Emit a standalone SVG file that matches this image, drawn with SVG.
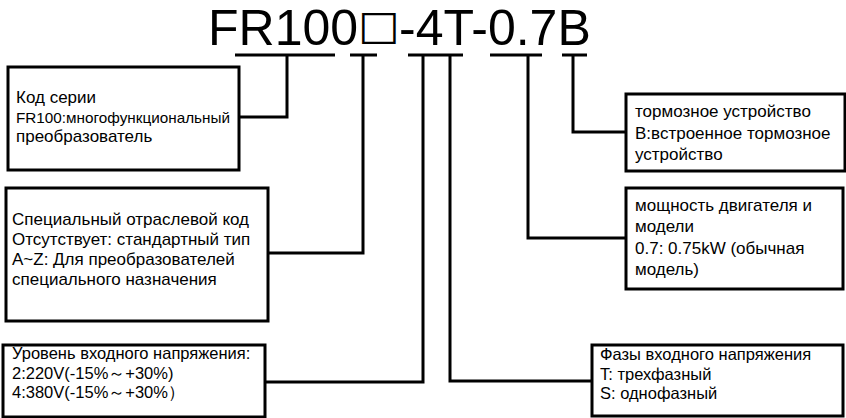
<svg xmlns="http://www.w3.org/2000/svg" width="846" height="418" viewBox="0 0 846 418">
<style>
.box{fill:#fff;stroke:#000;stroke-width:3}
.ln{fill:none;stroke:#000;stroke-width:3}
.t{font-family:"Liberation Sans",Arial,sans-serif;font-size:17px;fill:#000}
.s{font-size:15px}
.m{font-size:16.5px}
.big{font-family:"Liberation Sans",Arial,sans-serif;font-size:50px;fill:#000}
</style>
<rect width="846" height="418" fill="#fff"/>
<g id="title">
<text class="big" x="208" y="45">FR100</text>
<text transform="translate(358,39) scale(1.1,1)" x="0" y="0" style="font-family:'DejaVu Sans',sans-serif;font-size:40px;fill:#000">□</text>
<text class="big" x="399" y="45">-4T-0.7B</text>
</g>
<g id="connectors">
<path class="ln" d="M235 55H335M287 55V117H239"/>
<path class="ln" d="M350 55H377M363 55V253H268"/>
<path class="ln" d="M408 55H463M423 55V382H265M450 55V381H592"/>
<path class="ln" d="M490 55H542M528 55V238H626"/>
<path class="ln" d="M562 55H587M573 55V132H626"/>
</g>
<g id="series">
<rect class="box" x="8" y="67" width="231" height="103"/>
<text class="t" x="16" y="103">Код серии</text>
<text class="t s" x="16" y="123" textLength="214" lengthAdjust="spacingAndGlyphs">FR100:многофункциональный</text>
<text class="t" x="16" y="142">преобразователь</text>
</g>
<g id="special">
<rect class="box" x="6" y="188" width="262" height="133"/>
<text class="t" x="12" y="225">Специальный отраслевой код</text>
<text class="t" x="12" y="245">Отсутствует: стандартный тип</text>
<text class="t" x="12" y="265">A~Z: Для преобразователей</text>
<text class="t" x="12" y="285">специального назначения</text>
</g>
<g id="voltage">
<rect class="box" x="3" y="345" width="262" height="72"/>
<text class="t m" x="12" y="359">Уровень входного напряжения:</text>
<text class="t m" x="12" y="379">2:220V(-15%～+30%)</text>
<text class="t m" x="12" y="398">4:380V(-15%～+30%）</text>
</g>
<g id="phase">
<rect class="box" x="592" y="345" width="251" height="71"/>
<text class="t m" x="600" y="360">Фазы входного напряжения</text>
<text class="t m" x="600" y="380">T: трехфазный</text>
<text class="t m" x="600" y="399">S: однофазный</text>
</g>
<g id="brake">
<rect class="box" x="626" y="94" width="219" height="77"/>
<text class="t" x="635" y="117">тормозное устройство</text>
<text class="t" x="635" y="139">B:встроенное тормозное</text>
<text class="t" x="635" y="160">устройство</text>
</g>
<g id="power">
<rect class="box" x="626" y="188" width="217" height="101"/>
<text class="t" x="635" y="211">мощность двигателя и</text>
<text class="t" x="635" y="232">модели</text>
<text class="t" x="635" y="254">0.7: 0.75kW (обычная</text>
<text class="t" x="635" y="275">модель)</text>
</g>
</svg>
